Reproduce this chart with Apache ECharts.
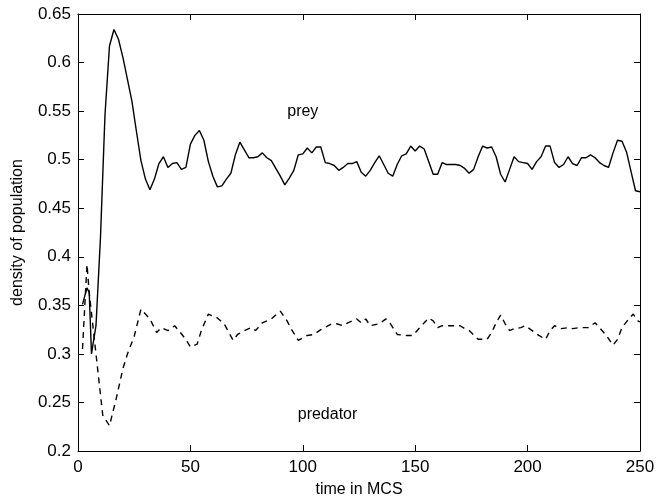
<!DOCTYPE html>
<html>
<head>
<meta charset="utf-8">
<script src="https://cdn.jsdelivr.net/npm/echarts@6/dist/echarts.min.js"></script>
<style>
  html, body { margin: 0; padding: 0; background: #fff; }
  #main { width: 670px; height: 503px; }
</style>
</head>
<body>
<div id="main"></div>
<script>
// prey density (solid line)
var preyTime = [2, 4, 5, 6, 8, 10, 12, 14, 16, 18, 20, 24, 26, 28, 30, 32, 34, 36, 38, 40,
  42, 44, 46, 48, 50, 52, 54, 56, 58, 60, 62, 64, 66, 68, 70, 72, 74, 76, 78, 80,
  82, 84, 86, 88, 90, 92, 94, 96, 98, 100, 102, 104, 106, 108, 110, 112, 114, 116, 118, 120,
  122, 124, 126, 128, 130, 132, 134, 136, 138, 140, 142, 144, 146, 148, 150, 152, 154, 156, 158, 160,
  162, 164, 166, 168, 170, 172, 174, 176, 178, 180, 182, 184, 186, 188, 190, 192, 194, 196, 198, 200,
  202, 204, 206, 208, 210, 212, 214, 216, 218, 220, 222, 224, 226, 228, 230, 232, 234, 236, 238, 240,
  242, 244, 246, 248, 250];
var preyValue = [0.351, 0.368, 0.363, 0.300, 0.329, 0.420, 0.546, 0.617, 0.634, 0.624, 0.605, 0.560, 0.529, 0.499, 0.480, 0.469, 0.480, 0.496, 0.503, 0.492,
  0.496, 0.497, 0.490, 0.492, 0.516, 0.525, 0.530, 0.520, 0.498, 0.483, 0.472, 0.473, 0.480, 0.486, 0.505, 0.518, 0.510, 0.502, 0.502, 0.503,
  0.507, 0.502, 0.499, 0.491, 0.483, 0.474, 0.481, 0.489, 0.505, 0.506, 0.512, 0.507, 0.513, 0.513, 0.497, 0.496, 0.494, 0.489, 0.492, 0.496,
  0.496, 0.498, 0.487, 0.483, 0.489, 0.497, 0.504, 0.495, 0.486, 0.483, 0.495, 0.504, 0.506, 0.514, 0.509, 0.514, 0.511, 0.498, 0.485, 0.485,
  0.497, 0.495, 0.495, 0.495, 0.494, 0.491, 0.486, 0.490, 0.503, 0.514, 0.512, 0.513, 0.503, 0.485, 0.477, 0.490, 0.503, 0.498, 0.497, 0.496,
  0.490, 0.498, 0.503, 0.514, 0.514, 0.497, 0.492, 0.495, 0.503, 0.496, 0.494, 0.502, 0.502, 0.505, 0.502, 0.497, 0.494, 0.492, 0.507, 0.520,
  0.519, 0.508, 0.488, 0.468, 0.467];

// predator density (dashed line)
var predTime = [2, 4, 5, 8, 11, 14, 17, 20, 22, 25, 28, 32, 35, 37, 40, 43, 48, 50, 53, 55,
  58, 62, 65, 69, 71, 75, 77, 79, 82, 86, 90, 93, 95, 98, 102, 105, 108, 113, 115, 118,
  120, 124, 126, 128, 130, 134, 137, 139, 142, 146, 149, 152, 156, 158, 160, 162, 167, 170, 172, 174,
  178, 182, 184, 186, 188, 190, 192, 194, 197, 199, 202, 205, 208, 210, 212, 215, 218, 220, 223, 227,
  230, 232, 235, 238, 240, 242, 245, 247, 249, 250];
var predValue = [0.305, 0.392, 0.363, 0.300, 0.237, 0.226, 0.254, 0.285, 0.300, 0.318, 0.346, 0.336, 0.322, 0.327, 0.324, 0.329, 0.315, 0.307, 0.310, 0.325,
  0.341, 0.337, 0.331, 0.314, 0.320, 0.325, 0.327, 0.324, 0.332, 0.336, 0.344, 0.334, 0.325, 0.314, 0.319, 0.320, 0.325, 0.331, 0.331, 0.329,
  0.332, 0.336, 0.332, 0.336, 0.329, 0.331, 0.336, 0.331, 0.320, 0.319, 0.319, 0.327, 0.337, 0.334, 0.327, 0.329, 0.329, 0.329, 0.326, 0.324,
  0.315, 0.315, 0.322, 0.332, 0.340, 0.331, 0.324, 0.326, 0.327, 0.329, 0.324, 0.319, 0.315, 0.324, 0.329, 0.326, 0.327, 0.326, 0.327, 0.327,
  0.332, 0.327, 0.319, 0.309, 0.315, 0.327, 0.336, 0.341, 0.334, 0.333];

var xTicks = [0, 50, 100, 150, 200, 250];
var yTicks = [0.2, 0.25, 0.3, 0.35, 0.4, 0.45, 0.5, 0.55, 0.6, 0.65];

// text labels inside the plot, in data coordinates
var notes = [
  { text: 'prey', at: [100, 0.549] },
  { text: 'predator', at: [111, 0.237] }
];

function pairs(xs, ys) {
  var out = [];
  for (var i = 0; i < xs.length; i++) out.push([xs[i], ys[i]]);
  return out;
}

var chart = echarts.init(document.getElementById('main'), null, { renderer: 'canvas' });
var font = 'Liberation Sans, Arial, sans-serif';
var axisCommon = {
  min: xTicks[0], max: xTicks[xTicks.length - 1], interval: 50,
  axisLine: { show: true, onZero: false, lineStyle: { color: '#000', width: 1 } },
  axisTick: { show: true, inside: true, length: 6, lineStyle: { color: '#000' } },
  splitLine: { show: false }
};

var option = {
  backgroundColor: '#ffffff',
  animation: false,
  grid: { left: 78, right: 30, top: 14, bottom: 46, containLabel: false },
  xAxis: [
    Object.assign({}, axisCommon, {
      type: 'value', position: 'bottom',
      name: 'time in MCS', nameLocation: 'middle', nameGap: 31,
      nameTextStyle: { color: '#000', fontSize: 16, fontFamily: font },
      axisLabel: { color: '#000', fontSize: 17, fontFamily: font, margin: 8 }
    }),
    Object.assign({}, axisCommon, {
      type: 'value', position: 'top',
      axisLabel: { show: false }
    })
  ],
  yAxis: [
    Object.assign({}, axisCommon, {
      type: 'value', position: 'left', min: yTicks[0], max: yTicks[yTicks.length - 1], interval: 0.05,
      name: 'density of population', nameLocation: 'middle', nameGap: 52,
      nameTextStyle: { color: '#000', fontSize: 16, fontFamily: font },
      axisLabel: { color: '#000', fontSize: 17, fontFamily: font, margin: 7 }
    }),
    Object.assign({}, axisCommon, {
      type: 'value', position: 'right', min: yTicks[0], max: yTicks[yTicks.length - 1], interval: 0.05,
      axisLabel: { show: false }
    })
  ],
  series: [
    {
      name: 'prey', type: 'line', xAxisIndex: 0, yAxisIndex: 0,
      data: pairs(preyTime, preyValue), showSymbol: false, symbol: 'none',
      lineStyle: { color: '#000', width: 1.4, type: 'solid' }
    },
    {
      name: 'predator', type: 'line', xAxisIndex: 0, yAxisIndex: 0,
      data: pairs(predTime, predValue), showSymbol: false, symbol: 'none',
      lineStyle: { color: '#000', width: 1.4, type: [6, 5] }
    }
  ]
};

chart.setOption(option);

var texts = notes.map(function (n) {
  var p = chart.convertToPixel({ xAxisIndex: 0, yAxisIndex: 0 }, n.at);
  return {
    type: 'text', x: p[0], y: p[1],
    style: { text: n.text, fill: '#000', font: '16px ' + font, align: 'center', verticalAlign: 'middle' }
  };
});
chart.setOption({ graphic: texts });
</script>
</body>
</html>
